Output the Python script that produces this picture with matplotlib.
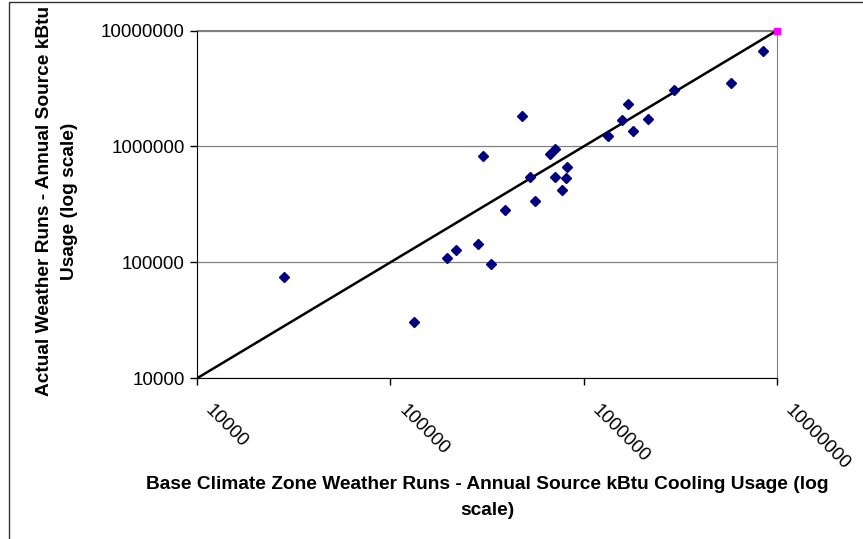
import matplotlib
matplotlib.use("Agg")
import matplotlib.pyplot as plt
import matplotlib.transforms as mtransforms
from matplotlib.patches import Rectangle

plt.rcParams["font.family"] = ["Liberation Sans", "DejaVu Sans"]

# base climate zone runs (x) vs actual weather runs (y), kBtu
base_kbtu = [28200, 133000, 196000, 218000, 285000, 330000, 392000, 478000,
             300000, 528000, 558000, 670000, 714000, 714000, 773000, 818000,
             808000, 1342000, 1585000, 1690000, 1795000, 2162000, 2924000,
             5790000, 8475000]
actual_kbtu = [75000, 30700, 110000, 128000, 144000, 97000, 284000, 1845000,
               833000, 542000, 339000, 857000, 952000, 542000, 418000, 670000,
               538000, 1225000, 1682000, 2325000, 1360000, 1716000, 3090000,
               3508000, 6660000]

# 1:1 reference line and the end marker
ref_line = [10000, 10000000]
end_point = [10000000]

ticks = [10000, 100000, 1000000, 10000000]
tick_labels = ["10000", "100000", "1000000", "10000000"]

W, H = 863, 539
fig = plt.figure(figsize=(W / 100, H / 100), dpi=100)

# outer chart border
fig.patches.append(Rectangle((9 / W, -0.1), 1.2, 1 - 2 / H + 0.1,
                             transform=fig.transFigure, fill=False,
                             edgecolor="#333333", linewidth=1.0))

ax = fig.add_axes([197 / W, 1 - 378.3 / H, 580 / W, 347.8 / H])
ax.set_xscale("log")
ax.set_yscale("log")
ax.set_xlim(10000, 10000000)
ax.set_ylim(10000, 10000000)

for y in ticks:
    ax.axhline(y, color="#808080", linewidth=0.9, zorder=1)

ax.plot(ref_line, ref_line, color="black", linewidth=1.8, zorder=2)
ax.plot(base_kbtu, actual_kbtu, linestyle="none", marker="D",
        markersize=5, color="#000080", zorder=3)
ax.plot(end_point, end_point, linestyle="none", marker="s", markersize=5,
        color="#FF00FF", clip_on=False, zorder=4)

ax.set_xticks(ticks)
ax.set_yticks(ticks)
ax.minorticks_off()
ax.tick_params(axis="y", direction="out", length=5, width=1, pad=4)
ax.tick_params(axis="x", direction="out", length=5, width=1, pad=12)
ax.set_yticklabels(tick_labels, fontsize=13.5)
ax.set_xticklabels(tick_labels, fontsize=13.5, rotation=-45,
                   ha="left", va="top")
# nudge rotated x labels to the right of their ticks
offset = mtransforms.ScaledTranslation(5 / 100, 0, fig.dpi_scale_trans)
for lbl in ax.get_xticklabels():
    lbl.set_transform(lbl.get_transform() + offset)

ax.spines["left"].set_color("black")
ax.spines["bottom"].set_color("black")
ax.spines["top"].set_color("#808080")
ax.spines["right"].set_color("#808080")

fig.text(487 / W, 1 - 497.5 / H,
         "Base Climate Zone Weather Runs - Annual Source kBtu Cooling Usage (log\nscale)",
         ha="center", va="center", fontsize=13.8, fontweight="bold",
         linespacing=1.65)
fig.text(57 / W, 1 - 201 / H,
         "Actual Weather Runs - Annual Source kBtu\nUsage (log scale)",
         ha="center", va="center", rotation=90, fontsize=13.8,
         fontweight="bold", linespacing=1.65)

fig.savefig("out.png", dpi=100)
